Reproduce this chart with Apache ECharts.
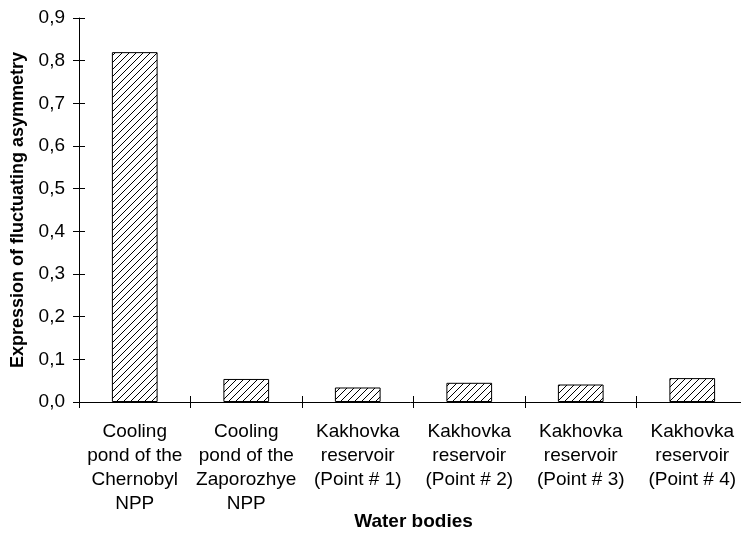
<!DOCTYPE html>
<html>
<head>
<meta charset="utf-8">
<script src="https://cdn.jsdelivr.net/npm/echarts@6/dist/echarts.min.js"></script>
<style>
  html, body { margin: 0; padding: 0; background: #fff; }
  #charts { width: 741px; height: 534px; }
</style>
</head>
<body>
<div id="charts"></div>
<script>
// categories and values
var categories = [
    'Cooling\npond of the\nChernobyl\nNPP',
    'Cooling\npond of the\nZaporozhye\nNPP',
    'Kakhovka\nreservoir\n(Point # 1)',
    'Kakhovka\nreservoir\n(Point # 2)',
    'Kakhovka\nreservoir\n(Point # 3)',
    'Kakhovka\nreservoir\n(Point # 4)'
];
var values = [0.82, 0.054, 0.034, 0.045, 0.041, 0.056];
var yTicks = [0, 0.1, 0.2, 0.3, 0.4, 0.5, 0.6, 0.7, 0.8, 0.9];

// hatch tile "/"
function hatch () {
    var s = 7;
    var c = document.createElement('canvas');
    c.width = s; c.height = s;
    var g = c.getContext('2d');
    g.fillStyle = '#fff';
    g.fillRect(0, 0, s, s);
    g.strokeStyle = '#000';
    g.lineWidth = 1;
    g.beginPath();
    g.moveTo(-1, s + 1); g.lineTo(s + 1, -1);
    g.moveTo(-1, 1); g.lineTo(1, -1);
    g.moveTo(s - 1, s + 1); g.lineTo(s + 1, s - 1);
    g.stroke();
    return c;
}

var font = 'Liberation Sans, Arial, sans-serif';
var myChart = echarts.init(document.getElementById('charts'));

myChart.setOption({
    animation: false,
    grid: { left: 79, right: -7, top: 18, bottom: 132, outerBoundsMode: 'none' },
    xAxis: [{
        type: 'category',
        data: categories,
        name: 'Water bodies',
        nameLocation: 'middle',
        nameGap: 110,
        nameMoveOverlap: false,
        nameTextStyle: { fontFamily: font, fontSize: 19, fontWeight: 'bold', color: '#000' },
        axisLine: { lineStyle: { color: '#000', width: 1 } },
        axisTick: { show: true, length: 6, lineStyle: { color: '#000' } },
        axisLabel: { fontFamily: font, fontSize: 19, lineHeight: 24, color: '#000', margin: 18, interval: 0 }
    }, {
        type: 'category',
        data: categories,
        position: 'bottom',
        axisLine: { show: false },
        axisTick: { show: true, inside: true, length: 6, lineStyle: { color: '#000' } },
        axisLabel: { show: false }
    }],
    yAxis: [{
        type: 'value',
        min: 0,
        max: 0.9,
        interval: 0.1,
        name: 'Expression of fluctuating asymmetry',
        nameLocation: 'middle',
        nameGap: 52,
        nameMoveOverlap: false,
        nameRotate: 90,
        nameTextStyle: { fontFamily: font, fontSize: 18, fontWeight: 'bold', color: '#000' },
        splitLine: { show: false },
        axisLine: { show: true, lineStyle: { color: '#000', width: 1 } },
        axisTick: { show: true, length: 6, lineStyle: { color: '#000' } },
        axisLabel: {
            fontFamily: font, fontSize: 19, color: '#000', margin: 14,
            formatter: function (v) { return v.toFixed(1).replace('.', ','); }
        }
    }, {
        type: 'value',
        min: 0,
        max: 0.9,
        interval: 0.1,
        position: 'left',
        splitLine: { show: false },
        axisLine: { show: false },
        axisTick: { show: true, inside: true, length: 6, lineStyle: { color: '#000' } },
        axisLabel: { show: false }
    }],
    series: [{
        type: 'bar',
        data: values,
        barWidth: '41%',
        itemStyle: {
            color: { image: hatch(), repeat: 'repeat' },
            borderColor: '#000',
            borderWidth: 1
        }
    }]
});
</script>
</body>
</html>
